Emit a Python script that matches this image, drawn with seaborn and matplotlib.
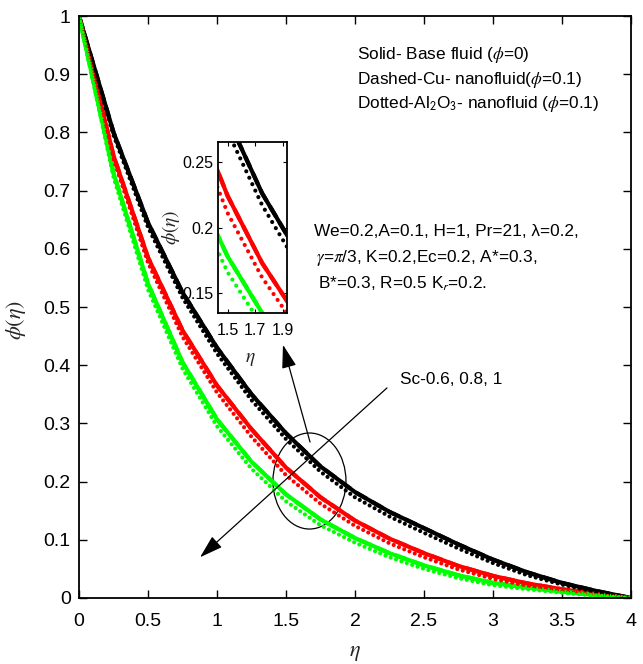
import matplotlib
matplotlib.use("Agg")
import matplotlib.pyplot as plt
from matplotlib.patches import Ellipse
import numpy as np
import pandas as pd
import seaborn as sns

# Concentration profiles phi(eta) for Sc = 0.6 (black), 0.8 (red), 1 (green)
eta = [0.0, 0.25, 0.5, 0.75, 1.0, 1.25, 1.5, 1.75, 2.0,
       2.25, 2.5, 2.75, 3.0, 3.25, 3.5, 3.75, 4.0]

# base fluid (solid)
base_sc06 = [1.0, 0.80, 0.645, 0.525, 0.43, 0.35, 0.283, 0.226, 0.182,
             0.148, 0.12, 0.092, 0.066, 0.044, 0.026, 0.012, 0.0]
base_sc08 = [1.0, 0.76, 0.585, 0.46, 0.365, 0.29, 0.224, 0.173, 0.133,
             0.102, 0.077, 0.055, 0.038, 0.025, 0.015, 0.007, 0.0]
base_sc10 = [1.0, 0.73, 0.54, 0.405, 0.307, 0.234, 0.178, 0.135, 0.103,
             0.077, 0.056, 0.039, 0.026, 0.018, 0.011, 0.005, 0.0]

# Cu nanofluid (dashed)
cu_sc06 = [1.0, 0.80, 0.645, 0.525, 0.43, 0.35, 0.283, 0.226, 0.182,
           0.148, 0.12, 0.092, 0.066, 0.044, 0.026, 0.012, 0.0]
cu_sc08 = [1.0, 0.76, 0.585, 0.46, 0.365, 0.29, 0.224, 0.173, 0.133,
           0.102, 0.077, 0.055, 0.038, 0.025, 0.015, 0.007, 0.0]
cu_sc10 = [1.0, 0.73, 0.54, 0.405, 0.307, 0.234, 0.178, 0.135, 0.103,
           0.077, 0.056, 0.039, 0.026, 0.018, 0.011, 0.005, 0.0]

# Al2O3 nanofluid (dotted)
al_sc06 = [1.0, 0.795, 0.637, 0.516, 0.420, 0.340, 0.273, 0.217, 0.173,
           0.140, 0.112, 0.085, 0.060, 0.039, 0.023, 0.010, 0.0]
al_sc08 = [1.0, 0.754, 0.576, 0.449, 0.353, 0.277, 0.211, 0.162, 0.124,
           0.094, 0.070, 0.049, 0.033, 0.021, 0.012, 0.005, 0.0]
al_sc10 = [1.0, 0.723, 0.530, 0.394, 0.295, 0.222, 0.166, 0.125, 0.095,
           0.070, 0.050, 0.034, 0.022, 0.015, 0.009, 0.004, 0.0]

x_ticks = [0, 0.5, 1, 1.5, 2, 2.5, 3, 3.5, 4]
x_tick_labels = ["0", "0.5", "1", "1.5", "2", "2.5", "3", "3.5", "4"]
y_ticks = [0, 0.1, 0.2, 0.3, 0.4, 0.5, 0.6, 0.7, 0.8, 0.9, 1.0]
y_tick_labels = ["0", "0.1", "0.2", "0.3", "0.4", "0.5", "0.6", "0.7", "0.8", "0.9", "1"]
inset_x_ticks = [1.5, 1.7, 1.9]
inset_x_labels = ["1.5", "1.7", "1.9"]
inset_y_ticks = [0.15, 0.2, 0.25]
inset_y_labels = ["0.15", "0.2", "0.25"]

colors = {"0.6": "#000000", "0.8": "#ff0000", "1": "#00ff00"}

sns.set_theme(style="ticks")
plt.rcParams["font.family"] = ["Liberation Sans", "DejaVu Sans"]
plt.rcParams["mathtext.fontset"] = "stix"

series = [
    ("base", "0.6", base_sc06), ("base", "0.8", base_sc08), ("base", "1", base_sc10),
    ("cu", "0.6", cu_sc06), ("cu", "0.8", cu_sc08), ("cu", "1", cu_sc10),
    ("al", "0.6", al_sc06), ("al", "0.8", al_sc08), ("al", "1", al_sc10),
]
frames = [pd.DataFrame({"eta": eta, "phi": v, "fluid": f, "Sc": s}) for f, s, v in series]
df = pd.concat(frames, ignore_index=True)

fig = plt.figure(figsize=(6.43, 6.64), dpi=100)
ax = fig.add_axes([0.1229, 0.0994, 0.8584, 0.8765])


def draw_curves(axis, lw, dot_gap):
    styles = {
        "base": dict(linestyle="-"),
        "cu": dict(linestyle=(0, (3, 1.5))),
        "al": dict(linestyle=(0, (0.01, dot_gap)), dash_capstyle="round"),
    }
    for fluid in ["base", "cu", "al"]:
        for sc in ["0.6", "0.8", "1"]:
            sub = df[(df.fluid == fluid) & (df.Sc == sc)]
            sns.lineplot(data=sub, x="eta", y="phi", ax=axis, color=colors[sc],
                         lw=lw, sort=False, estimator=None, **styles[fluid])


draw_curves(ax, 3.0, 1.35)

ax.set_xlim(0, 4)
ax.set_ylim(0, 1)
ax.set_xticks(x_ticks)
ax.set_xticklabels(x_tick_labels)
ax.set_yticks(y_ticks)
ax.set_yticklabels(y_tick_labels)
ax.tick_params(direction="in", top=True, right=True, length=6, width=1.0,
               labelsize=14, colors="black")
ax.tick_params(axis="x", pad=11)
ax.tick_params(axis="y", pad=6)
for sp in ax.spines.values():
    sp.set_linewidth(1.3)
    sp.set_color("black")
ax.set_xlabel(r"$\eta$", fontsize=16)
ax.set_ylabel(r"$\phi(\eta)$", fontsize=16)
ax.xaxis.set_label_coords(0.5, -0.075)
ax.yaxis.set_label_coords(-0.092, 0.478)

# description texts
txt_kw = dict(fontsize=12.4, ha="left", va="center", color="black")
ax.text(2.014, 0.933, r"Solid- Base fluid ($\phi$=0)", **txt_kw)
ax.text(2.014, 0.890, r"Dashed-Cu- nanofluid($\phi$=0.1)", **txt_kw)
ax.text(2.014, 0.849, r"Dotted-Al$_\mathsf{2}$O$_\mathsf{3}$- nanofluid ($\phi$=0.1)", **txt_kw)

ax.text(1.703, 0.629, "We=0.2,A=0.1, H=1, Pr=21, λ=0.2,", **txt_kw)
ax.text(1.717, 0.584, r"$\gamma$=$\pi$/3, K=0.2,Ec=0.2, A*=0.3,", **txt_kw)
ax.text(1.732, 0.540, r"B*=0.3, R=0.5 K$_\mathsf{r}$=0.2.", **txt_kw)

ax.text(2.326, 0.3746, "Sc-0.6, 0.8, 1", **txt_kw)

# annotation: ellipse and arrows
ax.add_patch(Ellipse((1.670, 0.201), 0.529, 0.165, fill=False, lw=0.9, color="black"))
arrow_kw = dict(arrowstyle="-|>,head_length=0.9,head_width=0.28", color="black", lw=0.9,
                shrinkA=0, shrinkB=0, mutation_scale=16)
ax.annotate("", xy=(1.478, 0.435), xytext=(1.674, 0.268), arrowprops=arrow_kw)
ax.annotate("", xy=(0.877, 0.070), xytext=(2.232, 0.361), arrowprops=arrow_kw)

# zoomed inset
axi = fig.add_axes([0.339, 0.5286, 0.1073, 0.2575])
draw_curves(axi, 3.0, 1.7)
axi.set_xlim(1.43, 1.93)
axi.set_ylim(0.135, 0.265)
axi.set_xticks(inset_x_ticks)
axi.set_xticklabels(inset_x_labels)
axi.set_yticks(inset_y_ticks)
axi.set_yticklabels(inset_y_labels)
axi.tick_params(direction="in", top=True, right=True, length=3, width=0.8,
                labelsize=11.5, colors="black", pad=3)
axi.tick_params(axis="x", pad=7)
for sp in axi.spines.values():
    sp.set_linewidth(1.3)
    sp.set_color("black")
axi.set_xlabel(r"$\eta$", fontsize=14)
axi.set_ylabel(r"$\phi(\eta)$", fontsize=14)
axi.xaxis.set_label_coords(0.47, -0.22)
axi.yaxis.set_label_coords(-0.52, 0.5)

fig.savefig("out.png", dpi=100, facecolor="white")
